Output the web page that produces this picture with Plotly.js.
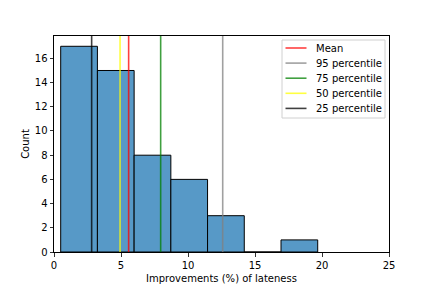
<!DOCTYPE html>
<html>
<head>
<meta charset="utf-8">
<script src="https://cdn.plot.ly/plotly-3.0.1.min.js"></script>
<style>html,body{margin:0;padding:0;background:#fff;}#chart{width:432px;height:288px;}</style>
</head>
<body>
<div id="chart"></div>
<script>
// Histogram bin edges and counts
const binEdges = [0.5, 3.24, 5.98, 8.72, 11.46, 14.2, 16.94, 19.68];
const counts = [17, 15, 8, 6, 3, 0, 1];

// Reference lines
const lineNames = ["Mean", "95 percentile", "75 percentile", "50 percentile", "25 percentile"];
const lineValues = [5.57, 12.59, 7.96, 4.93, 2.81];
const lineColors = ["rgba(255,0,0,0.75)", "rgba(128,128,128,0.75)", "rgba(0,128,0,0.75)", "rgba(255,255,0,0.75)", "rgba(0,0,0,0.75)"];

const xTicks = [0, 5, 10, 15, 20, 25];
const yTicks = [0, 2, 4, 6, 8, 10, 12, 14, 16];
const yMax = 17 * 1.05;

const M = {l: 54, r: 43, t: 36, b: 36};
const W = 432, H = 288;
const pw = W - M.l - M.r, ph = H - M.t - M.b;
const px = x => (x - M.l) / pw;          // pixel -> paper x
const py = y => (H - M.b - y) / ph;      // pixel -> paper y

const centers = counts.map((c, i) => (binEdges[i] + binEdges[i + 1]) / 2);
const widths = counts.map((c, i) => binEdges[i + 1] - binEdges[i]);

const traces = [{
  type: "bar",
  x: centers,
  y: counts,
  width: widths,
  marker: {color: "rgb(87,153,199)", line: {color: "black", width: 1}},
  showlegend: false,
  hoverinfo: "skip"
}];

lineNames.forEach((n, i) => {
  traces.push({
    type: "scatter",
    mode: "lines",
    name: n,
    x: [lineValues[i], lineValues[i]],
    y: [0, yMax],
    line: {color: lineColors[i], width: 1.6},
    showlegend: false
  });
});

// Manual legend (matplotlib-like compact spacing)
const shapes = [{
  type: "rect", xref: "paper", yref: "paper",
  x0: px(282), x1: px(385), y0: py(118), y1: py(40),
  fillcolor: "rgba(255,255,255,0.8)", line: {color: "#d0d0d0", width: 1}, layer: "above"
}];
const annotations = [];
lineNames.forEach((n, i) => {
  const yy = 48 + i * 15.1;
  shapes.push({
    type: "line", xref: "paper", yref: "paper",
    x0: px(285.5), x1: px(306.5), y0: py(yy), y1: py(yy),
    line: {color: lineColors[i], width: 1.6}, layer: "above"
  });
  annotations.push({
    xref: "paper", yref: "paper", x: px(313.5), y: py(yy),
    xanchor: "left", yanchor: "middle", showarrow: false, text: n,
    font: {family: "DejaVu Sans", size: 10, color: "black"}
  });
});

const axisCommon = {
  showline: true, mirror: true, linecolor: "black", linewidth: 1,
  ticks: "outside", ticklen: 3.5, tickwidth: 0.8, tickcolor: "black",
  showgrid: false, zeroline: false,
  tickfont: {family: "DejaVu Sans", size: 10, color: "black"}
};

const layout = {
  width: W, height: H,
  margin: M,
  paper_bgcolor: "white", plot_bgcolor: "white",
  bargap: 0,
  showlegend: false,
  font: {family: "DejaVu Sans", size: 10, color: "black"},
  xaxis: Object.assign({}, axisCommon, {
    range: [0, 25], tickvals: xTicks, ticktext: xTicks.map(String),
    title: {text: "Improvements (%) of lateness", font: {family: "DejaVu Sans", size: 10}, standoff: 5}
  }),
  yaxis: Object.assign({}, axisCommon, {
    range: [0, yMax], tickvals: yTicks, ticktext: yTicks.map(String),
    title: {text: "Count", font: {family: "DejaVu Sans", size: 10}, standoff: 3}
  }),
  shapes: shapes,
  annotations: annotations
};

Plotly.newPlot("chart", traces, layout, {staticPlot: true, displayModeBar: false});
</script>
</body>
</html>
